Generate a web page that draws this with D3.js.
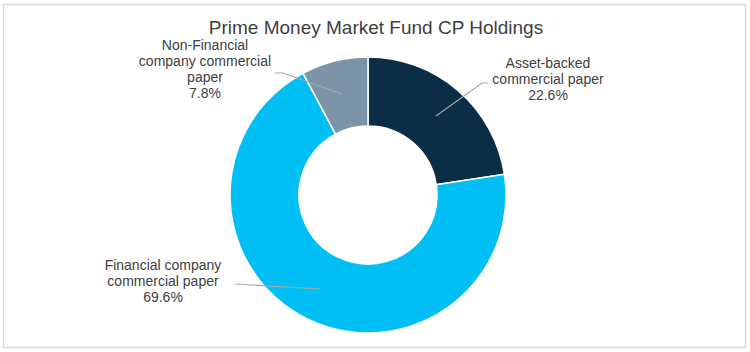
<!DOCTYPE html>
<html>
<head>
<meta charset="utf-8">
<script src="https://cdn.jsdelivr.net/npm/d3@7/dist/d3.min.js"></script>
<style>
  body { margin: 0; background: #fff; font-family: Arial, "Liberation Sans", sans-serif; }
</style>
</head>
<body>
<div id="chart"></div>
<script>
const categories = ['Asset-backed commercial paper', 'Financial company commercial paper', 'Non-Financial company commercial paper'];
const shares = [22.6, 69.6, 7.8];
const colors = ['#0b2d46', '#00bff5', '#7d94a8'];
// label text split into lines, label anchor and leader line points
const labelLines = [
    ['Asset-backed', 'commercial paper'],
    ['Financial company', 'commercial paper'],
    ['Non-Financial', 'company commercial', 'paper']
];
const labelPos = [[548, 68], [163, 270], [205, 50]];
const leaders = [
    [[488, 83], [482, 83], [436, 116]],
    [[235, 284], [320, 289]],
    [[275, 73], [283, 73], [342, 94]]
];

const width = 750, height = 352;
const svg = d3.select('#chart').append('svg')
    .attr('width', width).attr('height', height);

svg.append('rect').attr('x', 3.5).attr('y', 4.5).attr('width', 742).attr('height', 343)
    .attr('fill', '#fff').attr('stroke', '#d9d9d9').attr('stroke-width', 1.5);

svg.append('text').attr('x', 376).attr('y', 34)
    .attr('text-anchor', 'middle').attr('fill', '#404040')
    .style('font-size', '19px').text('Prime Money Market Fund CP Holdings');

const cx = 368, cy = 195, outerR = 138, innerR = 69;
const pie = d3.pie().sort(null).value(d => d)(shares);
const arc = d3.arc().innerRadius(innerR).outerRadius(outerR);
const g = svg.append('g').attr('transform', `translate(${cx},${cy})`);
g.selectAll('path').data(pie).join('path')
    .attr('d', arc)
    .attr('fill', (d, i) => colors[i])
    .attr('stroke', '#fff').attr('stroke-width', 1.5);

const line = d3.line();
svg.selectAll('path.leader').data(leaders).join('path')
    .attr('class', 'leader')
    .attr('d', d => line(d))
    .attr('fill', 'none').attr('stroke', '#a6a6a6').attr('stroke-width', 1.2);

labelLines.forEach((lines, i) => {
    const t = svg.append('text').attr('text-anchor', 'middle')
        .attr('fill', '#404040').style('font-size', '14px');
    const all = lines.concat([shares[i].toFixed(1) + '%']);
    all.forEach((s, j) => {
        t.append('tspan').attr('x', labelPos[i][0]).attr('y', labelPos[i][1] + j * 16).text(s);
    });
});
</script>
</body>
</html>
